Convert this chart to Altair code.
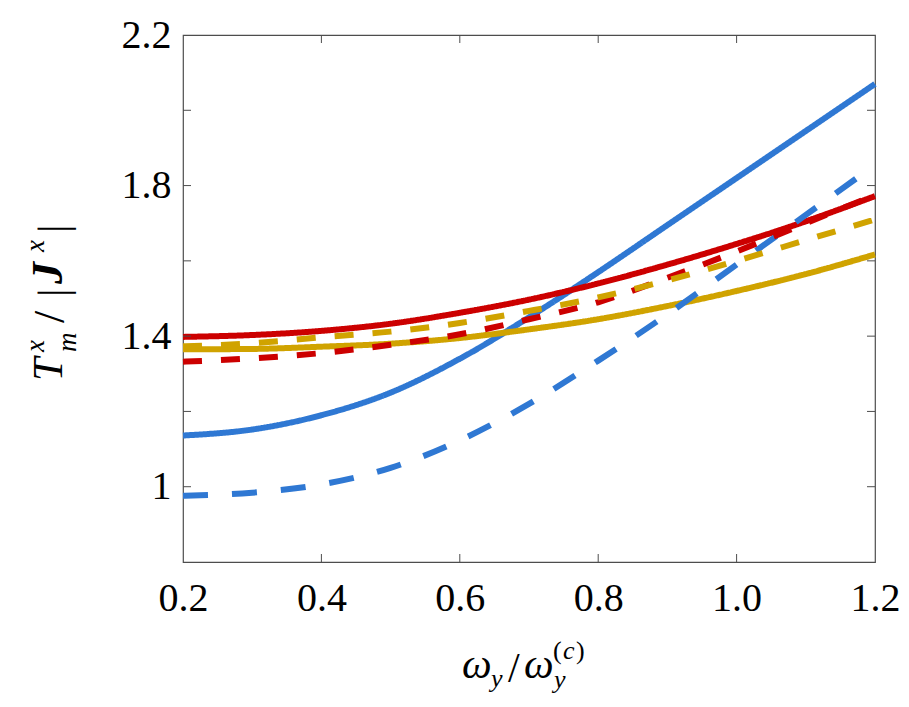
import altair as alt
import pandas as pd

# ---- data ----
x_vals = [0.2, 0.3, 0.4, 0.5, 0.6, 0.7, 0.8, 0.9, 1.0, 1.1, 1.2]
blue_solid = [1.136, 1.152, 1.19, 1.25, 1.34, 1.45, 1.57, 1.695, 1.82, 1.945, 2.07]
blue_dashed = [0.976, 0.984, 1.006, 1.05, 1.123, 1.22, 1.335, 1.458, 1.59, 1.722, 1.855]
red_solid = [1.398, 1.403, 1.414, 1.433, 1.462, 1.497, 1.54, 1.59, 1.645, 1.705, 1.772]
red_dashed = [1.332, 1.341, 1.355, 1.377, 1.405, 1.445, 1.49, 1.555, 1.625, 1.70, 1.775]
yellow_solid = [1.365, 1.366, 1.372, 1.38, 1.395, 1.418, 1.445, 1.48, 1.52, 1.565, 1.617]
yellow_dashed = [1.373, 1.381, 1.397, 1.412, 1.435, 1.467, 1.503, 1.548, 1.60, 1.655, 1.71]

x_label_values = [0.2, 0.4, 0.6, 0.8, 1.0, 1.2]
y_label_values = [1.0, 1.4, 1.8, 2.2]
x_minor_ticks = [0.4, 0.6, 0.8, 1.0]
y_minor_ticks = [1.0, 1.2, 1.4, 1.6, 1.8, 2.0]

BLUE = "#2f78d3"
RED = "#cc0000"
GOLD = "#d0a300"
FRAME = "#4d4d4d"
SERIF = "Liberation Serif"

W, H = 692, 527

xaxis = alt.Axis(values=x_label_values, format=".1f", title=None, domain=False,
                 ticks=False, grid=False, labelFont=SERIF, labelFontSize=40,
                 labelPadding=16, labelColor="black", labelOverlap=False, labelFlush=False)
yaxis = alt.Axis(values=y_label_values, format="~g", title=None, domain=False,
                 ticks=False, grid=False, labelFont=SERIF, labelFontSize=40,
                 labelPadding=12, labelColor="black", labelOverlap=False, labelFlush=False)

X = alt.X("x:Q", scale=alt.Scale(domain=[0.2, 1.2], nice=False, zero=False), axis=xaxis)
Y = alt.Y("y:Q", scale=alt.Scale(domain=[0.8, 2.2], nice=False, zero=False), axis=yaxis)


def series(vals, color, dash):
    df = pd.DataFrame({"x": x_vals, "y": vals})
    return alt.Chart(df).mark_line(color=color, strokeWidth=6, strokeDash=dash,
                                   strokeCap="butt", interpolate="monotone").encode(x=X, y=Y)


lines = [
    series(blue_solid, BLUE, [1, 0]),
    series(red_solid, RED, [1, 0]),
    series(yellow_solid, GOLD, [1, 0]),
    series(blue_dashed, BLUE, [25, 24]),
    series(red_dashed, RED, [19, 19]),
    series(yellow_dashed, GOLD, [19, 19]),
]

ydf = pd.DataFrame({"y": y_minor_ticks})
xdf = pd.DataFrame({"x": x_minor_ticks})
ticks = [
    alt.Chart(ydf).mark_rule(color=FRAME, strokeWidth=1).encode(y=Y, x=alt.value(0), x2=alt.value(8)),
    alt.Chart(ydf).mark_rule(color=FRAME, strokeWidth=1).encode(y=Y, x=alt.value(W - 8), x2=alt.value(W)),
    alt.Chart(xdf).mark_rule(color=FRAME, strokeWidth=1).encode(x=X, y=alt.value(0), y2=alt.value(8)),
    alt.Chart(xdf).mark_rule(color=FRAME, strokeWidth=1).encode(x=X, y=alt.value(H - 8), y2=alt.value(H)),
]

one = pd.DataFrame({"k": [0]})


def txt(t, px, py, size, angle=0, italic=True, bold=False):
    kw = dict(text=t, font=SERIF, fontSize=size, align="left", baseline="alphabetic",
              color="black", fontStyle="italic" if italic else "normal",
              fontWeight="bold" if bold else "normal")
    if angle:
        kw["angle"] = angle
    return alt.Chart(one).mark_text(**kw).encode(x=alt.value(px), y=alt.value(py))


# x-axis title: omega_y / omega_y^(c)
ox, oy = -183, -35  # page -> plot offsets
xtitle = [
    txt("ω", 462 + ox, 678 + oy, 42),
    txt("y", 491 + ox, 687 + oy, 26),
    txt("/", 508 + ox, 682 + oy, 42, italic=False),
    txt("ω", 524 + ox, 678 + oy, 42),
    txt("(", 553 + ox, 659 + oy, 26, italic=False),
    txt("c", 563 + ox, 659 + oy, 26),
    txt(")", 576 + ox, 659 + oy, 26, italic=False),
    txt("y", 554 + ox, 688 + oy, 26),
]

# y-axis title: T_m^x / |J^x|   (rotated, reads bottom to top)
ytitle = [
    txt("T", 62 + ox, 381 + oy, 42, angle=270),
    txt("m", 76 + ox, 352 + oy, 27, angle=270),
    txt("x", 44 + ox, 352 + oy, 27, angle=270),
    txt("/", 64 + ox, 323 + oy, 44, angle=270, italic=False),
    txt("|", 67 + ox, 297 + oy, 42, angle=270, italic=False),
    txt("J", 62 + ox, 284 + oy, 44, angle=270, bold=True),
    txt("x", 44 + ox, 252 + oy, 27, angle=270),
    txt("|", 67 + ox, 233 + oy, 42, angle=270, italic=False),
]

chart = alt.layer(*lines, *ticks, *xtitle, *ytitle).properties(
    width=W, height=H,
    autosize=alt.AutoSizeParams(type="none"),
    padding={"left": 183, "top": 35, "right": 34, "bottom": 145},
    background="white",
).configure_view(stroke=FRAME, strokeWidth=1.2)

chart.save("out.html", embed_options={"renderer": "svg", "actions": False})
